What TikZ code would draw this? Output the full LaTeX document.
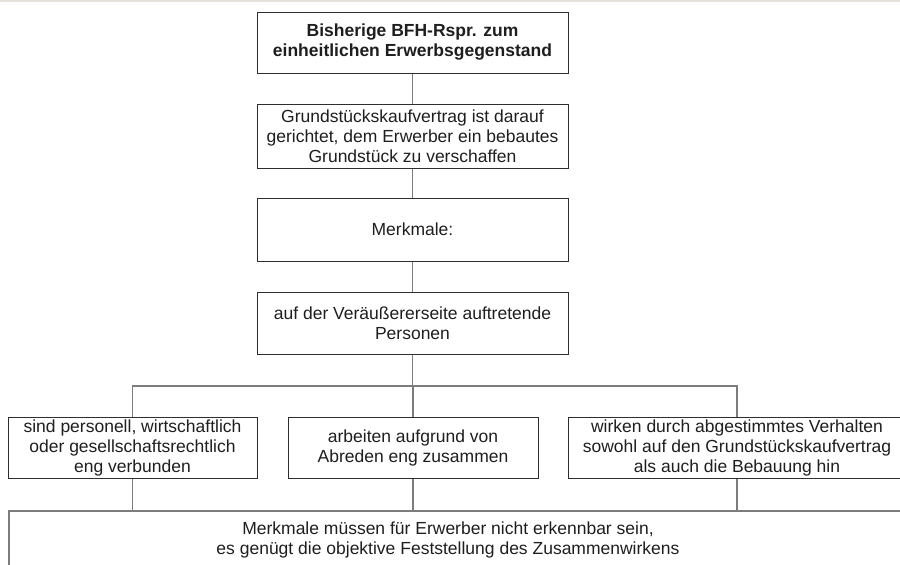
\documentclass[tikz,border=0pt]{standalone}
\usepackage{fontspec}
\setmainfont{Liberation Sans}
\begin{document}
\begin{tikzpicture}[x=1pt,y=-1pt,
  box/.style={draw=boxline, line width=1pt, text=ink, inner sep=0pt, align=center,
    font=\fontsize{17.5pt}{20pt}\selectfont},
  conn/.style={draw=connline, line width=1.6pt},
  frame/.style={draw=connline, line width=1.6pt, inner sep=0pt}]
\definecolor{boxline}{HTML}{2E2E2E}
\definecolor{connline}{HTML}{7C7C7C}
\definecolor{ink}{HTML}{1E1E1E}
\definecolor{topband}{HTML}{E4E0DA}
\useasboundingbox (0,0) rectangle (900,565);
\clip (0,0) rectangle (900,565);
\fill[topband] (0,0) rectangle (900,1.5);

% main chain
\node[box, minimum width=311, minimum height=61, font=\fontsize{17.5pt}{20pt}\selectfont\bfseries]
  (title) at (412.5,42.5) {Bisherige BFH-Rspr. zum\\einheitlichen Erwerbsgegenstand};
\node[box, minimum width=311, minimum height=64]
  (kauf) at (412.5,136) {Grundstückskaufvertrag ist darauf\\gerichtet, dem Erwerber ein bebautes\\Grundstück zu verschaffen};
\node[box, minimum width=311, minimum height=63]
  (merk) at (412.5,229.5) {Merkmale:};
\node[box, minimum width=311, minimum height=62]
  (pers) at (412.5,323) {auf der Veräußererseite auftretende\\Personen};

% three features
\node[box, minimum width=249, minimum height=61]
  (verb) at (132.5,447.5) {sind personell, wirtschaftlich\\oder gesellschaftsrechtlich\\eng verbunden};
\node[box, minimum width=250, minimum height=61]
  (abred) at (413,447.5) {arbeiten aufgrund von\\Abreden eng zusammen};
\node[box, minimum width=338, minimum height=61]
  (wirk) at (737,447.5) {wirken durch abgestimmtes Verhalten\\sowohl auf den Grundstückskaufvertrag\\als auch die Bebauung hin};

% closing statement
\node[frame, minimum width=898, minimum height=90, anchor=north west] (fazit) at (8,510) {};
\node[text=ink, inner sep=0pt, align=center, font=\fontsize{17.5pt}{20pt}\selectfont]
  (fazittext) at (448,540) {Merkmale müssen für Erwerber nicht erkennbar sein,\\es genügt die objektive Feststellung des Zusammenwirkens};

% connectors
\coordinate (bus) at (132.5,386);
\draw[conn] (title.south) -- (kauf.north);
\draw[conn] (kauf.south) -- (merk.north);
\draw[conn] (merk.south) -- (pers.north);
\draw[conn] (pers.south) -- (pers.south |- bus);
\draw[conn] (verb.north) -- (verb.north |- bus) -- (wirk.north |- bus) -- (wirk.north);
\draw[conn] (abred.north) -- (abred.north |- bus);
\draw[conn] (verb.south) -- (verb.south |- fazit.north);
\draw[conn] (abred.south) -- (abred.south |- fazit.north);
\draw[conn] (wirk.south) -- (wirk.south |- fazit.north);
\end{tikzpicture}
\end{document}
